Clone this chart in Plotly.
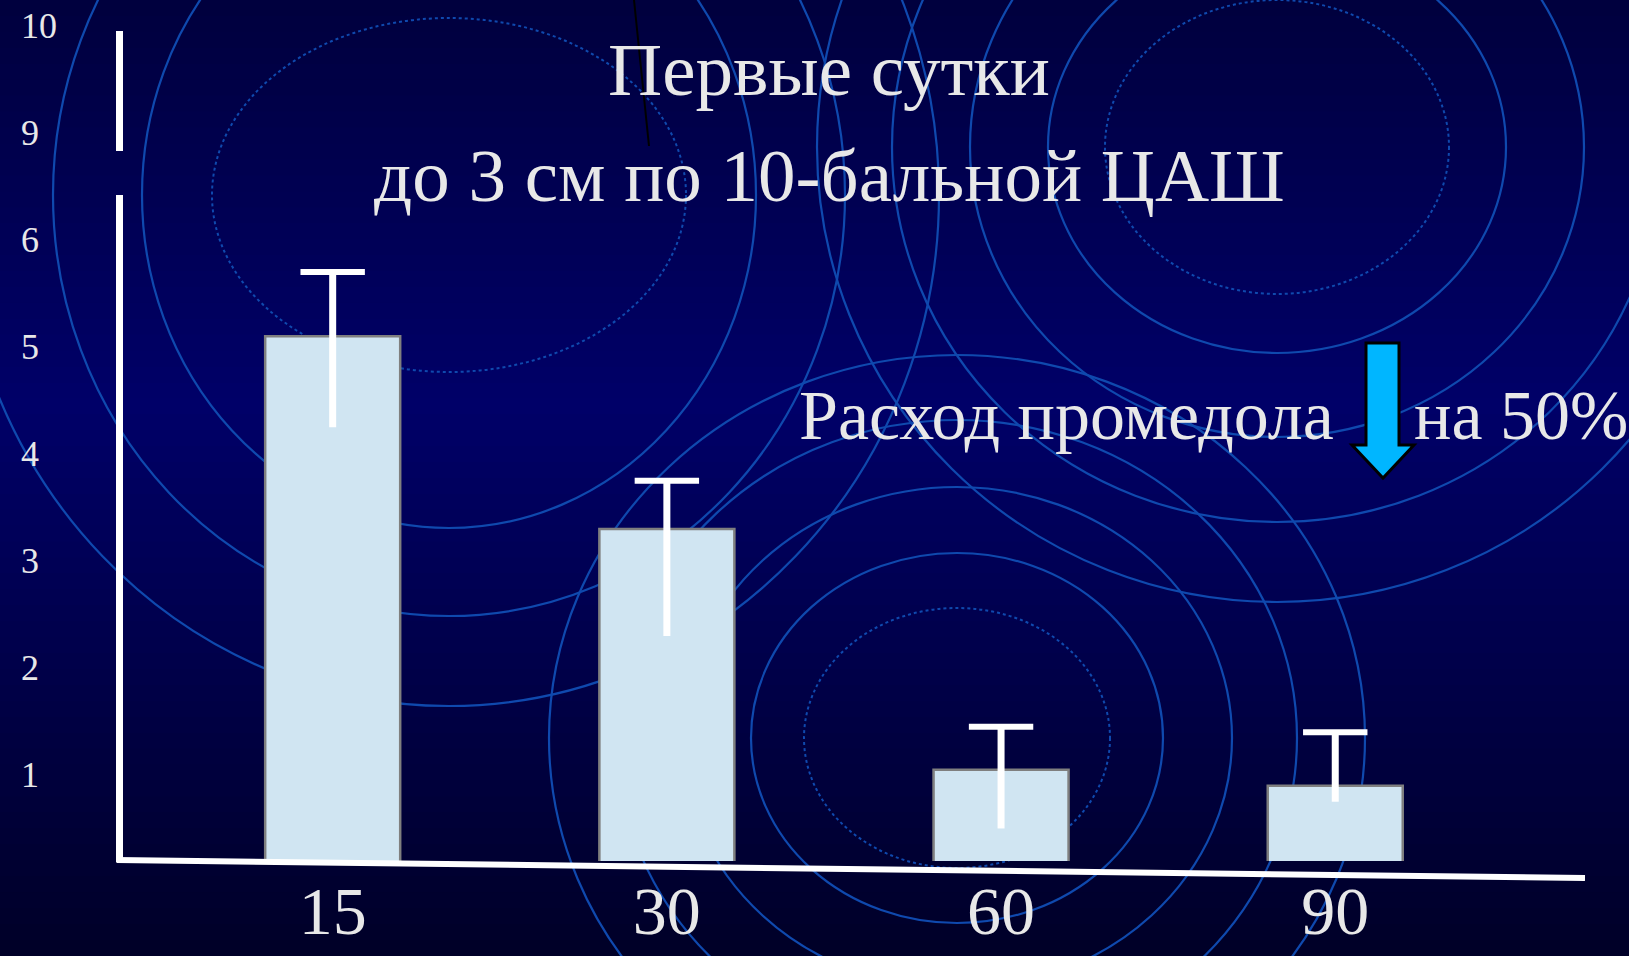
import plotly.graph_objects as go

# ---- data -------------------------------------------------------------
categories = ["15", "30", "60", "90"]
scores = [5.1, 3.3, 1.05, 0.9]          # mean score per group
err_upper = [5.7, 3.75, 1.45, 1.4]      # upper end of the whisker
err_lower = [4.25, 2.3, 0.5, 0.75]      # lower end of the whisker

# broken y axis: display positions 1..8 carry labels 1..6, 9, 10
tick_pos = [1, 2, 3, 4, 5, 6, 7, 8]
tick_text = ["1", "2", "3", "4", "5", "6", "9", "10"]

title_lines = ["Первые сутки", "до 3 см по 10-бальной ЦАШ"]
note_left = "Расход промедола"
note_right = "на 50%"

# ---- geometry helpers (pixels -> paper) -------------------------------
W, H = 1629, 956
MB = 95                      # bottom margin
PH = H - MB                  # plot height in px


def px(x):
    return x / W


def py(y):
    return (PH - y) / PH


FONT = "Liberation Serif, Times New Roman, serif"
TXT = "#E8E8E8"

fig = go.Figure()

# bars
fig.add_trace(go.Bar(
    x=categories, y=scores, width=0.404,
    marker=dict(color="#D0E5F2", line=dict(color="#7F7F7F", width=2.5)),
    hoverinfo="skip",
))

# whisker stems
sx, sy = [], []
for c, lo, hi in zip(categories, err_lower, err_upper):
    sx += [c, c, None]
    sy += [lo, hi, None]
fig.add_trace(go.Scatter(x=sx, y=sy, mode="lines",
                         line=dict(color="white", width=7), hoverinfo="skip"))
# whisker caps
fig.add_trace(go.Scatter(x=categories, y=err_upper, mode="markers",
                         marker=dict(symbol="line-ew", size=46,
                                     line=dict(color="white", width=6)),
                         hoverinfo="skip"))

shapes = []

# background: vertical navy gradient built from thin bands
top_c, mid_c, bot_c = (0, 0, 62), (0, 0, 104), (0, 0, 40)
n_bands = 60
for i in range(n_bands):
    t = i / (n_bands - 1)
    if t < 0.42:
        k = t / 0.42
        c = [round(top_c[j] + (mid_c[j] - top_c[j]) * k) for j in range(3)]
    else:
        k = (t - 0.42) / 0.58
        c = [round(mid_c[j] + (bot_c[j] - mid_c[j]) * k) for j in range(3)]
    y0 = H * i / n_bands
    y1 = H * (i + 1) / n_bands + 1
    shapes.append(dict(type="rect", xref="paper", yref="paper", layer="below",
                       x0=0, x1=1, y0=py(y1), y1=py(y0),
                       fillcolor=f"rgb({c[0]},{c[1]},{c[2]})", line=dict(width=0)))

# decorative concentric rings
RING = "#0F49AE"
ring_groups = [
    ((449, 195), [(237, 177, "dot"), (307, 333, "solid"), (396, 421, "solid"),
                  (490, 511, "solid")]),
    ((1277, 147), [(172, 147, "dot"), (229, 206, "solid"), (307, 290, "solid"),
                   (385, 375, "solid"), (460, 455, "solid")]),
    ((957, 738), [(153, 130, "dot"), (206, 185, "solid"), (275, 251, "solid"),
                  (340, 318, "solid"), (408, 383, "solid")]),
]
for (cx, cy), rings in ring_groups:
    for rx, ry, dash in rings:
        shapes.append(dict(type="circle", xref="paper", yref="paper", layer="below",
                           x0=px(cx - rx), x1=px(cx + rx),
                           y0=py(cy + ry), y1=py(cy - ry),
                           line=dict(color=RING, width=2.2 if dash == "solid" else 2,
                                     dash=dash)))

# thin dark stroke near the heading
shapes.append(dict(type="line", xref="paper", yref="paper", layer="above",
                   x0=px(634), y0=py(0), x1=px(649), y1=py(146),
                   line=dict(color="black", width=2)))

# axes: broken vertical axis and slanted baseline
AX = 119.5
shapes.append(dict(type="line", xref="paper", yref="paper",
                   x0=px(AX), x1=px(AX), y0=py(31), y1=py(151),
                   line=dict(color="white", width=7)))
shapes.append(dict(type="line", xref="paper", yref="paper",
                   x0=px(AX), x1=px(AX), y0=py(195), y1=py(862),
                   line=dict(color="white", width=7)))
shapes.append(dict(type="line", xref="paper", yref="paper",
                   x0=px(AX - 3), x1=px(1585), y0=py(860), y1=py(878),
                   line=dict(color="white", width=6)))

# down arrow
ax0, ax1 = 1366, 1399      # shaft
hx0, hx1 = 1352, 1414      # head
ytop, yneck, ytip = 343, 445, 478
tipx = (hx0 + hx1) / 2
path = (f"M {px(ax0)},{py(ytop)} L {px(ax1)},{py(ytop)} L {px(ax1)},{py(yneck)} "
        f"L {px(hx1)},{py(yneck)} L {px(tipx)},{py(ytip)} L {px(hx0)},{py(yneck)} "
        f"L {px(ax0)},{py(yneck)} Z")
shapes.append(dict(type="path", xref="paper", yref="paper", path=path,
                   fillcolor="#00B6FF", line=dict(color="black", width=3)))

annotations = []
for pos, txt in zip(tick_pos, tick_text):
    annotations.append(dict(x=px(19), y=pos, xref="paper", yref="y",
                            xanchor="left", yanchor="middle", text=txt,
                            showarrow=False, font=dict(family=FONT, size=36, color=TXT)))

annotations.append(dict(x=px(829), y=py(69), xref="paper", yref="paper",
                        xanchor="center", yanchor="middle", text=title_lines[0],
                        showarrow=False, font=dict(family=FONT, size=75, color=TXT)))
annotations.append(dict(x=px(829), y=py(175), xref="paper", yref="paper",
                        xanchor="center", yanchor="middle", text=title_lines[1],
                        showarrow=False, font=dict(family=FONT, size=75, color=TXT)))
annotations.append(dict(x=px(797), y=py(415), xref="paper", yref="paper",
                        xanchor="left", yanchor="middle", text=note_left,
                        showarrow=False, font=dict(family=FONT, size=70, color=TXT)))
annotations.append(dict(x=px(1412), y=py(415), xref="paper", yref="paper",
                        xanchor="left", yanchor="middle", text=note_right,
                        showarrow=False, font=dict(family=FONT, size=70, color=TXT)))

fig.update_layout(
    width=W, height=H,
    margin=dict(l=0, r=0, t=0, b=MB, pad=0),
    paper_bgcolor="#000050",
    plot_bgcolor="rgba(0,0,0,0)",
    showlegend=False,
    shapes=shapes,
    annotations=annotations,
    xaxis=dict(type="category", range=[-0.9955, 3.879], showgrid=False,
               zeroline=False, showline=False, ticks="", automargin=False,
               ticklabelstandoff=4,
               tickfont=dict(family=FONT, size=68, color=TXT)),
    yaxis=dict(range=[0.196, 8.243], showgrid=False, zeroline=False,
               showline=False, showticklabels=False, ticks="", automargin=False),
)

fig.write_html("out.html")
